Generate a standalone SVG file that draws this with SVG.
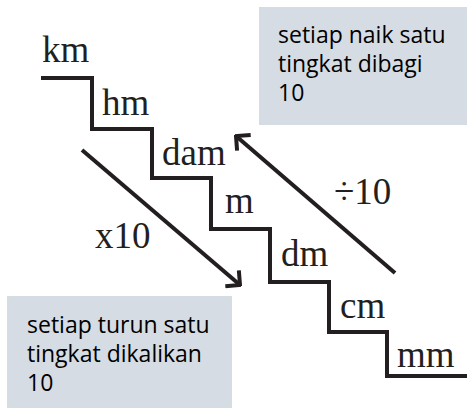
<svg xmlns="http://www.w3.org/2000/svg" width="467" height="408" viewBox="0 0 467 408">
<defs>
<style>
.u{font-family:"Liberation Serif","Times New Roman",serif;font-size:37px;fill:#231f20}
.b{font-family:"Open Sans","Noto Sans",sans-serif;font-size:23px;fill:#000}
.box{fill:#d6dce4}
.ln{fill:none;stroke:#231f20;stroke-width:4}
</style>
<marker id="chev" viewBox="-12 -12 14 24" markerWidth="14" markerHeight="24" refX="0" refY="0" orient="auto" markerUnits="userSpaceOnUse">
<path d="M -9 -9 L 0 0 L -9 9" fill="none" stroke="#231f20" stroke-width="4" stroke-linecap="square"/>
</marker>
</defs>
<rect width="467" height="408" fill="#fff"/>
<g id="stairs">
<path class="ln" d="M 41 78 H 92 V 129 H 152 V 178 H 211 V 229 H 270 V 282 H 329 V 332 H 387 V 376 H 467" stroke-width="4.5"/>
</g>
<g id="units">
<text class="u" x="42" y="62">km</text>
<text class="u" x="102" y="115">hm</text>
<text class="u" x="162" y="165">dam</text>
<text class="u" x="225" y="213">m</text>
<text class="u" x="281" y="266">dm</text>
<text class="u" x="340" y="318">cm</text>
<text class="u" x="397" y="367">mm</text>
</g>
<g id="connectors">
<line class="ln" x1="82" y1="150" x2="240" y2="285" marker-end="url(#chev)"/>
<line class="ln" x1="395" y1="273" x2="236" y2="136" marker-end="url(#chev)"/>
</g>
<g id="labels">
<text class="u" x="95" y="248">x10</text>
<text class="u" x="334" y="204">÷10</text>
</g>
<g id="box-up">
<rect class="box" x="259" y="7" width="208" height="118"/>
<text class="b" x="278" y="43">setiap naik satu</text>
<text class="b" x="278" y="72">tingkat dibagi</text>
<text class="b" x="278" y="101">10</text>
</g>
<g id="box-down">
<rect class="box" x="7" y="296" width="225" height="112"/>
<text class="b" x="27" y="333">setiap turun satu</text>
<text class="b" x="27" y="362">tingkat dikalikan</text>
<text class="b" x="27" y="391">10</text>
</g>
</svg>
